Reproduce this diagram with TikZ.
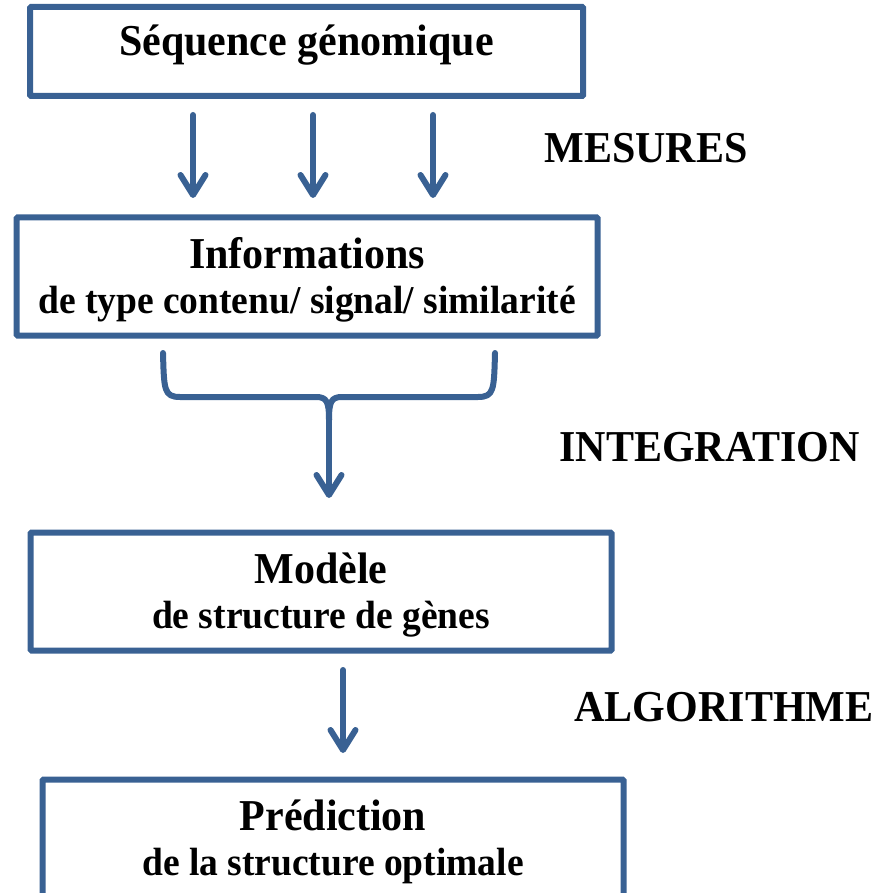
\documentclass[tikz,border=0pt]{standalone}
\usepackage{fontspec}
\setmainfont{Liberation Serif}
\usetikzlibrary{arrows.meta}
\definecolor{boxblue}{RGB}{57,97,147}
\tikzset{
  box/.style={draw=boxblue, line width=6pt, inner sep=0pt, fill=none, rounded corners=1pt},
  ttl/.style={anchor=base, inner sep=0pt, font=\fontsize{42}{48}\selectfont\bfseries, yscale=1.05},
  sub/.style={anchor=base, inner sep=0pt, font=\fontsize{37.5}{44}\selectfont\bfseries, yscale=1.05},
  lbl/.style={anchor=base, inner sep=0pt, font=\fontsize{42}{48}\selectfont\bfseries, yscale=1.05},
  conn/.style={draw=boxblue, line width=6pt, line cap=round, line join=round},
  tipped/.style={-{Straight Barb[length=20pt, width=25pt, line cap=round, line join=round]}}
}
\begin{document}
\begin{tikzpicture}[x=1pt,y=-1pt]
\useasboundingbox (0,0) rectangle (877,893);
\clip (0,0) rectangle (877,893);
% boxes
\node[box, minimum width=553pt, minimum height=89pt] (b1) at (306.5,51.5) {};
\node[ttl] (t1) at (306.5,56) {Séquence génomique};

\node[box, minimum width=581pt, minimum height=118pt] (b2) at (307,276.5) {};
\node[ttl] (t2) at (307,268) {Informations};
\node[sub] (s2) at (307,313) {de type contenu/ signal/ similarité};

\node[box, minimum width=581pt, minimum height=118pt] (b3) at (321,591.5) {};
\node[ttl] (t3) at (321,583) {Modèle};
\node[sub] (s3) at (321,628) {de structure de gènes};

\node[box, minimum width=581pt, minimum height=118pt] (b4) at (333,838.5) {};
\node[ttl] (t4) at (333,830) {Prédiction};
\node[sub] (s4) at (333,875) {de la structure optimale};

% side labels
\node[lbl] (l1) at (646,163) {MESURES};
\node[lbl] (l2) at (709.5,461) {INTEGRATION};
\node[lbl] (l3) at (724,721) {ALGORITHME};

% arrows from box 1 to box 2
\coordinate (a1s) at (193,115);
\coordinate (a1e) at (193,198);
\coordinate (a2s) at (313,115);
\coordinate (a2e) at (313,198);
\coordinate (a3s) at (433,115);
\coordinate (a3e) at (433,198);
\draw[conn, tipped] (a1s) -- (a1e);
\draw[conn, tipped] (a2s) -- (a2e);
\draw[conn, tipped] (a3s) -- (a3e);

% brace
\coordinate (brl) at (163,353);
\coordinate (brr) at (495,353);
\coordinate (brm) at (329,420);
\coordinate (bre) at (329,498);
\draw[conn] (brl) .. controls (164,390) and (164,397) .. (180,397) -- (316,397)
  .. controls (327,397) and (329,402) .. (brm);
\draw[conn] (brr) .. controls (494,390) and (494,397) .. (478,397) -- (342,397)
  .. controls (331,397) and (329,402) .. (brm);
\draw[conn, tipped] (brm) -- (bre);

% arrow box 3 to box 4
\coordinate (a4s) at (343,670);
\coordinate (a4e) at (343,753);
\draw[conn, tipped] (a4s) -- (a4e);
\end{tikzpicture}
\end{document}
